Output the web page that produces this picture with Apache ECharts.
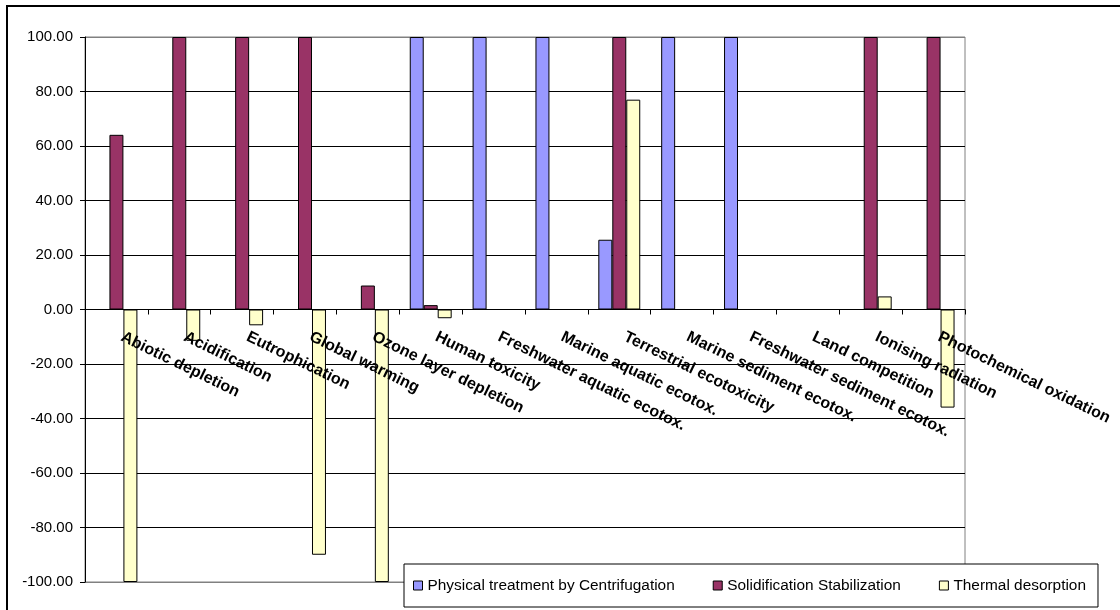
<!DOCTYPE html>
<html>
<head>
<meta charset="utf-8">
<script src="https://cdn.jsdelivr.net/npm/echarts@6/dist/echarts.min.js"></script>
<style>
  html, body { margin: 0; padding: 0; background: #fff; }
  #chart { width: 1120px; height: 610px; }
</style>
</head>
<body>
<div id="chart"></div>
<script>
// Impact categories along the x axis
const categories = [
  'Abiotic depletion', 'Acidification', 'Eutrophication', 'Global warming',
  'Ozone layer depletion', 'Human toxicity', 'Freshwater aquatic ecotox.',
  'Marine aquatic ecotox.', 'Terrestrial ecotoxicity', 'Marine sediment ecotox.',
  'Freshwater sediment ecotox.', 'Land competition', 'Ionising radiation',
  'Photochemical oxidation'
];

// Relative scores per treatment option
const centrifugation = [0, 0, 0, 0, 0, 100, 100, 100, 25.6, 100, 100, 0, 0, 0];
const solidification = [64.1, 100, 100, 100, 8.8, 1.6, 0, 0, 100, 0, 0, 0, 100, 100];
const thermal = [-100, -11.5, -5.8, -90, -100, -3.2, 0, 0, 77, 0, 0, 0, 4.8, -36];

const seriesNames = [
  'Physical treatment by Centrifugation',
  'Solidification Stabilization',
  'Thermal desorption'
];

// Value axis ticks
const yTicks = [-100, -80, -60, -40, -20, 0, 20, 40, 60, 80, 100];

const FONT = '"Liberation Sans", Arial, sans-serif';

// Plot area in pixels
const GRID_TOP = 37;
const GRID_BOTTOM = 28;
const CHART_H = 610;
const plotH = CHART_H - GRID_TOP - GRID_BOTTOM;
// the category axis sits on the zero line of the value range
const zeroFromBottom = plotH * (0 - yTicks[0]) / (yTicks[yTicks.length - 1] - yTicks[0]);

const chart = echarts.init(document.getElementById('chart'), null, { renderer: 'canvas' });

// grid edge lines in grey, interior lines in black
const splitColors = yTicks.map((v, i) => (i === 0 || i === yTicks.length - 1) ? '#808080' : '#000000');

function barSeries(name, data, color) {
  return {
    name: name,
    type: 'bar',
    data: data,
    barGap: '0%',
    barCategoryGap: '33.3%',
    itemStyle: { color: color, borderColor: '#000', borderWidth: 1 },
    emphasis: { disabled: true }
  };
}

chart.setOption({
  animation: false,
  backgroundColor: '#fff',
  grid: {
    left: 85, right: 155, top: GRID_TOP, bottom: GRID_BOTTOM,
    containLabel: false,
    outerBoundsMode: 'none',
    show: true, borderColor: '#808080', borderWidth: 1, backgroundColor: 'transparent'
  },
  xAxis: {
    type: 'category',
    data: categories,
    position: 'bottom',
    offset: -zeroFromBottom,
    z: 5,
    axisLine: { onZero: false, lineStyle: { color: '#000', width: 1 } },
    axisTick: { show: true, length: 5, lineStyle: { color: '#000' } },
    axisLabel: {
      rotate: -26,
      margin: 24,
      padding: [0, 0, 0, 6],
      interval: 0,
      hideOverlap: false,
      color: '#000',
      fontFamily: FONT,
      fontWeight: 'bold',
      fontSize: 16
    },
    splitLine: { show: false }
  },
  yAxis: {
    type: 'value',
    min: yTicks[0],
    max: yTicks[yTicks.length - 1],
    interval: 20,
    axisLine: { show: true, lineStyle: { color: '#000' } },
    axisTick: { show: true, length: 5, lineStyle: { color: '#000' } },
    axisLabel: {
      margin: 12,
      color: '#000',
      fontFamily: FONT,
      fontSize: 15,
      formatter: v => v.toFixed(2)
    },
    splitLine: { show: true, lineStyle: { color: splitColors, width: 1 } }
  },
  legend: {
    left: 404,
    top: 564,
    orient: 'horizontal',
    data: seriesNames,
    icon: 'rect',
    itemWidth: 9,
    itemHeight: 9,
    itemGap: 38,
    padding: [14, 12, 14, 9],
    borderColor: '#000',
    borderWidth: 1,
    backgroundColor: '#fff',
    selectedMode: false,
    z: 10,
    textStyle: { color: '#000', fontFamily: FONT, fontSize: 15.4 },
    itemStyle: { borderColor: '#000', borderWidth: 1 }
  },
  graphic: [{
    type: 'rect',
    shape: { x: 7, y: 6, width: 1200, height: 700 },
    style: { fill: 'none', stroke: '#000', lineWidth: 2 },
    silent: true,
    z: 100
  }],
  series: [
    barSeries(seriesNames[0], centrifugation, '#9999FF'),
    barSeries(seriesNames[1], solidification, '#993366'),
    barSeries(seriesNames[2], thermal, '#FFFFCC')
  ]
});
</script>
</body>
</html>
